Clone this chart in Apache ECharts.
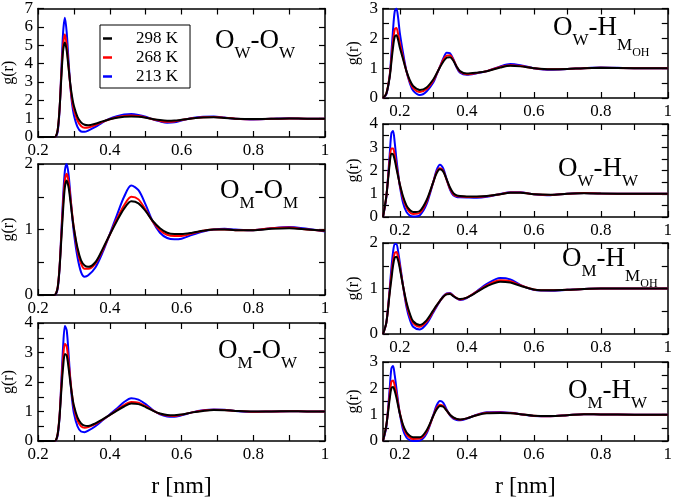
<!DOCTYPE html>
<html>
<head>
<meta charset="utf-8">
<script src="https://cdn.jsdelivr.net/npm/echarts@6/dist/echarts.min.js"></script>
<style>
html, body { margin: 0; padding: 0; background: #fff; }
#main { width: 675px; height: 500px; }
</style>
</head>
<body>
<div id="main"></div>
<script>
// r grids (nm)
var rLeft = [0.20, 0.245, 0.25, 0.255, 0.26, 0.265, 0.27, 0.275, 0.28, 0.285, 0.29, 0.295, 0.30, 0.31, 0.32, 0.33, 0.34, 0.36, 0.38, 0.40,
  0.42, 0.44, 0.46, 0.48, 0.50, 0.52, 0.54, 0.56, 0.58, 0.60, 0.63, 0.66, 0.69, 0.72, 0.75, 0.80, 0.85, 0.90, 0.95, 1.00];
var rRight = [0.15, 0.16, 0.17, 0.175, 0.18, 0.185, 0.19, 0.195, 0.20, 0.21, 0.22, 0.23, 0.24, 0.26, 0.28, 0.30, 0.31, 0.32, 0.33,
  0.34, 0.35, 0.36, 0.37, 0.38, 0.40, 0.43, 0.46, 0.50, 0.53, 0.56, 0.60, 0.65, 0.70, 0.75, 0.80, 0.90, 1.00];

// O_W - O_W
var owOw298 = [0, 0, 0.05, 0.4, 1.5, 3.2, 4.7, 5.15, 4.7, 3.8, 2.9, 2.2, 1.7, 1.1, 0.8, 0.67, 0.64, 0.72, 0.85, 0.97,
  1.05, 1.1, 1.12, 1.1, 1.05, 0.98, 0.92, 0.89, 0.9, 0.94, 1.01, 1.06, 1.07, 1.04, 1.0, 0.98, 0.99, 1.01, 1.0, 1.0];
var owOw268 = [0, 0, 0.05, 0.4, 1.5, 3.4, 5.0, 5.6, 5.0, 3.9, 2.8, 2.0, 1.5, 0.9, 0.6, 0.5, 0.52, 0.65, 0.82, 0.97,
  1.08, 1.15, 1.17, 1.14, 1.07, 0.97, 0.88, 0.83, 0.85, 0.92, 1.02, 1.08, 1.09, 1.05, 1.0, 0.97, 0.99, 1.01, 1.0, 1.0];
var owOw213 = [0, 0, 0.03, 0.3, 1.4, 3.6, 5.7, 6.5, 5.7, 4.2, 2.8, 1.8, 1.2, 0.55, 0.3, 0.28, 0.35, 0.55, 0.8, 1.0,
  1.13, 1.22, 1.25, 1.2, 1.1, 0.96, 0.85, 0.78, 0.8, 0.9, 1.03, 1.1, 1.12, 1.06, 1.0, 0.96, 0.99, 1.02, 1.0, 1.0];

// O_M - O_M
var omOm298 = [0, 0, 0.02, 0.12, 0.4, 0.85, 1.3, 1.65, 1.75, 1.65, 1.45, 1.22, 1.02, 0.72, 0.53, 0.45, 0.43, 0.5, 0.7, 0.92,
  1.13, 1.32, 1.43, 1.4, 1.28, 1.13, 1.02, 0.95, 0.93, 0.93, 0.95, 0.98, 1.0, 1.0, 0.99, 0.99, 1.01, 1.02, 1.0, 0.98];
var omOm268 = [0, 0, 0.02, 0.12, 0.42, 0.9, 1.4, 1.75, 1.85, 1.74, 1.5, 1.25, 1.02, 0.68, 0.48, 0.4, 0.4, 0.48, 0.68, 0.92,
  1.16, 1.37, 1.5, 1.46, 1.3, 1.12, 0.99, 0.92, 0.9, 0.9, 0.94, 0.98, 1.0, 1.0, 0.99, 0.99, 1.02, 1.03, 1.0, 0.98];
var omOm213 = [0, 0, 0.01, 0.1, 0.4, 0.95, 1.5, 1.9, 2.0, 1.85, 1.55, 1.22, 0.95, 0.58, 0.35, 0.28, 0.3, 0.42, 0.65, 0.93,
  1.22, 1.5, 1.67, 1.6, 1.38, 1.12, 0.95, 0.87, 0.85, 0.86, 0.92, 0.97, 1.0, 1.01, 1.0, 0.99, 1.02, 1.04, 1.01, 0.97];

// O_M - O_W
var omOw298 = [0, 0, 0.03, 0.25, 0.8, 1.7, 2.5, 2.95, 2.9, 2.5, 2.0, 1.55, 1.2, 0.8, 0.6, 0.52, 0.51, 0.6, 0.73, 0.88,
  1.03, 1.17, 1.27, 1.25, 1.15, 1.03, 0.93, 0.88, 0.87, 0.9, 0.97, 1.02, 1.05, 1.04, 1.02, 1.0, 1.0, 1.01, 1.0, 1.0];
var omOw268 = [0, 0, 0.03, 0.25, 0.85, 1.85, 2.8, 3.3, 3.2, 2.7, 2.1, 1.55, 1.15, 0.7, 0.5, 0.45, 0.47, 0.57, 0.72, 0.88,
  1.05, 1.22, 1.32, 1.3, 1.18, 1.04, 0.92, 0.86, 0.85, 0.89, 0.97, 1.03, 1.06, 1.05, 1.02, 0.99, 1.0, 1.01, 1.0, 1.0];
var omOw213 = [0, 0, 0.02, 0.2, 0.8, 2.0, 3.2, 3.9, 3.75, 3.0, 2.1, 1.4, 0.95, 0.5, 0.32, 0.3, 0.35, 0.5, 0.7, 0.9,
  1.1, 1.32, 1.45, 1.4, 1.25, 1.05, 0.9, 0.83, 0.82, 0.87, 0.97, 1.04, 1.07, 1.06, 1.02, 0.99, 1.0, 1.01, 1.0, 1.0];

// O_W - H_M(OH)
var owHm298 = [0, 0.15, 0.7, 1.2, 1.7, 2.05, 2.1, 1.95, 1.7, 1.3, 0.9, 0.6, 0.4, 0.27, 0.35, 0.62, 0.82, 1.03, 1.22,
  1.35, 1.37, 1.25, 1.05, 0.9, 0.82, 0.85, 0.9, 1.02, 1.08, 1.06, 1.0, 0.96, 0.97, 1.0, 1.01, 1.0, 1.0];
var owHm268 = [0, 0.15, 0.75, 1.3, 1.9, 2.3, 2.35, 2.15, 1.85, 1.35, 0.9, 0.55, 0.33, 0.2, 0.3, 0.58, 0.8, 1.05, 1.28,
  1.42, 1.43, 1.28, 1.05, 0.88, 0.8, 0.84, 0.9, 1.04, 1.1, 1.07, 1.0, 0.96, 0.97, 1.0, 1.01, 1.0, 1.0];
var owHm213 = [0, 0.12, 0.75, 1.5, 2.3, 2.9, 3.0, 2.7, 2.2, 1.5, 0.9, 0.5, 0.25, 0.1, 0.22, 0.52, 0.78, 1.05, 1.33,
  1.52, 1.5, 1.3, 1.02, 0.85, 0.78, 0.83, 0.9, 1.06, 1.14, 1.1, 1.0, 0.95, 0.97, 1.0, 1.02, 1.0, 1.0];

// O_W - H_W
var owHw298 = [0, 0.9, 2.3, 2.72, 2.7, 2.45, 2.1, 1.75, 1.42, 0.88, 0.5, 0.3, 0.21, 0.26, 0.72, 1.5, 1.88, 2.05, 1.95,
  1.62, 1.27, 1.03, 0.93, 0.9, 0.88, 0.88, 0.9, 0.98, 1.04, 1.04, 0.98, 0.96, 1.0, 1.02, 1.01, 1.0, 1.0];
var owHw268 = [0, 0.9, 2.45, 2.95, 2.95, 2.65, 2.2, 1.8, 1.4, 0.8, 0.42, 0.2, 0.13, 0.18, 0.65, 1.5, 1.93, 2.1, 1.98,
  1.6, 1.22, 0.98, 0.9, 0.88, 0.86, 0.86, 0.89, 0.98, 1.05, 1.05, 0.98, 0.95, 1.0, 1.03, 1.01, 1.0, 1.0];
var owHw213 = [0, 0.85, 2.7, 3.6, 3.7, 3.2, 2.5, 1.9, 1.35, 0.6, 0.22, 0.06, 0.02, 0.08, 0.55, 1.5, 2.02, 2.25, 2.08,
  1.62, 1.18, 0.93, 0.86, 0.85, 0.84, 0.83, 0.87, 0.99, 1.06, 1.06, 0.98, 0.94, 1.0, 1.03, 1.01, 1.0, 1.0];

// O_M - H_M(OH)
var omHm298 = [0, 0.25, 0.9, 1.2, 1.5, 1.68, 1.7, 1.62, 1.45, 1.05, 0.7, 0.45, 0.28, 0.2, 0.3, 0.52, 0.63, 0.73, 0.82,
  0.87, 0.88, 0.83, 0.79, 0.77, 0.8, 0.92, 1.05, 1.15, 1.13, 1.06, 0.98, 0.96, 0.97, 0.99, 1.0, 1.0, 1.0];
var omHm268 = [0, 0.25, 0.95, 1.3, 1.6, 1.78, 1.8, 1.7, 1.5, 1.05, 0.66, 0.4, 0.24, 0.16, 0.27, 0.5, 0.62, 0.73, 0.82,
  0.88, 0.89, 0.84, 0.79, 0.76, 0.8, 0.93, 1.07, 1.18, 1.16, 1.07, 0.98, 0.96, 0.97, 0.99, 1.0, 1.0, 1.0];
var omHm213 = [0, 0.25, 1.0, 1.45, 1.8, 1.98, 1.98, 1.82, 1.58, 1.05, 0.6, 0.32, 0.16, 0.1, 0.22, 0.47, 0.6, 0.72, 0.83,
  0.89, 0.9, 0.84, 0.78, 0.75, 0.79, 0.94, 1.1, 1.23, 1.2, 1.08, 0.97, 0.95, 0.97, 0.99, 1.0, 1.0, 1.0];

// O_M - H_W
var omHw298 = [0, 0.6, 1.6, 2.0, 2.05, 1.9, 1.65, 1.35, 1.05, 0.6, 0.33, 0.2, 0.14, 0.14, 0.4, 0.95, 1.2, 1.33, 1.3,
  1.15, 1.0, 0.9, 0.84, 0.82, 0.86, 0.98, 1.05, 1.06, 1.05, 1.02, 0.96, 0.95, 0.98, 1.02, 1.01, 1.0, 1.0];
var omHw268 = [0, 0.6, 1.75, 2.25, 2.3, 2.1, 1.8, 1.42, 1.08, 0.55, 0.26, 0.13, 0.08, 0.09, 0.35, 0.95, 1.25, 1.38, 1.33,
  1.16, 0.99, 0.88, 0.83, 0.81, 0.86, 0.99, 1.07, 1.08, 1.06, 1.02, 0.96, 0.94, 0.98, 1.02, 1.01, 1.0, 1.0];
var omHw213 = [0, 0.55, 2.0, 2.75, 2.85, 2.5, 2.0, 1.5, 1.05, 0.42, 0.13, 0.03, 0.0, 0.02, 0.28, 0.98, 1.35, 1.52, 1.45,
  1.2, 0.97, 0.85, 0.8, 0.79, 0.85, 1.0, 1.09, 1.1, 1.07, 1.02, 0.95, 0.94, 0.98, 1.02, 1.01, 1.0, 1.0];

// ticks and labels
var xTicks = [0.2, 0.3, 0.4, 0.5, 0.6, 0.7, 0.8, 0.9, 1];
var xLabels = [0.2, 0.4, 0.6, 0.8, 1];
var yTicks7 = [0, 1, 2, 3, 4, 5, 6, 7];
var yTicks2 = [0, 0.5, 1, 1.5, 2];
var yLabels2 = [0, 1, 2];
var yTicks3 = [0, 0.5, 1, 1.5, 2, 2.5, 3];
var yLabels3 = [0, 1, 2, 3];
var yTicks4 = [0, 0.5, 1, 1.5, 2, 2.5, 3, 3.5, 4];
var yLabels4 = [0, 1, 2, 3, 4];

var temps = ['298 K', '268 K', '213 K'];
var colors = ['#000000', '#ff0000', '#0000ff'];
var FONT = "'Liberation Serif', 'Times New Roman', serif";

var panels = [
  { grid: { left: 37, top: 5, width: 288, height: 132 }, r: rLeft, xMin: 0.2, d: [owOw298, owOw268, owOw213],
    yMax: 7, yTicks: yTicks7, yLabels: yTicks7, title: '{b|O}{s|W}{b|-O}{s|W}', tl: 215, tt: 24 },
  { grid: { left: 37, top: 164, width: 288, height: 131 }, r: rLeft, xMin: 0.2, d: [omOm298, omOm268, omOm213],
    yMax: 2, yTicks: yTicks2, yLabels: yLabels2, title: '{b|O}{s|M}{b|-O}{s|M}', tl: 220, tt: 174 },
  { grid: { left: 37, top: 323, width: 288, height: 130 }, r: rLeft, xMin: 0.2, d: [omOw298, omOw268, omOw213],
    yMax: 4, yTicks: yTicks4, yLabels: yLabels4, title: '{b|O}{s|M}{b|-O}{s|W}', tl: 218, tt: 334, xName: true },
  { grid: { left: 383, top: 7, width: 287, height: 91 }, r: rRight, xMin: 0.15, d: [owHm298, owHm268, owHm213],
    yMax: 3, yTicks: yTicks3, yLabels: yLabels3, title: '{b|O}{s|W}{b|-H}{m|M}{ss|OH}', tl: 553, tt: 11 },
  { grid: { left: 383, top: 124, width: 287, height: 93 }, r: rRight, xMin: 0.15, d: [owHw298, owHw268, owHw213],
    yMax: 4, yTicks: yTicks4, yLabels: yLabels4, title: '{b|O}{s|W}{b|-H}{s|W}', tl: 558, tt: 152 },
  { grid: { left: 383, top: 243, width: 287, height: 91 }, r: rRight, xMin: 0.15, d: [omHm298, omHm268, omHm213],
    yMax: 2, yTicks: yTicks2, yLabels: yLabels2, title: '{b|O}{s|M}{b|-H}{m|M}{ss|OH}', tl: 562, tt: 242 },
  { grid: { left: 383, top: 362, width: 287, height: 91 }, r: rRight, xMin: 0.15, d: [omHw298, omHw268, omHw213],
    yMax: 3, yTicks: yTicks3, yLabels: yLabels3, title: '{b|O}{s|M}{b|-H}{s|W}', tl: 568, tt: 374, xName: true }
];

var richStyle = {
  b: { fontFamily: FONT, fontWeight: 'normal', fontSize: 27, lineHeight: 34, color: '#000' },
  s: { fontFamily: FONT, fontWeight: 'normal', fontSize: 17, lineHeight: 34, color: '#000', padding: [26, 0, 0, 0] },
  m: { fontFamily: FONT, fontWeight: 'normal', fontSize: 17, lineHeight: 34, color: '#000', padding: [36, 0, 0, 0] },
  ss: { fontFamily: FONT, fontWeight: 'normal', fontSize: 12, lineHeight: 34, color: '#000', padding: [50, 0, 0, 0] }
};

var lineSt = { color: '#000', width: 1.5 };
var labelSt = { color: '#000', fontFamily: FONT, fontWeight: 'normal', fontSize: 17, margin: 5 };
var grids = [], xAxes = [], yAxes = [], series = [], titles = [];

panels.forEach(function (p, i) {
  grids.push(p.grid);
  titles.push({ text: p.title, left: p.tl, top: p.tt, padding: 0,
    textStyle: { fontFamily: FONT, fontWeight: 'normal', fontSize: 27, rich: richStyle } });
  ['bottom', 'top'].forEach(function (pos) {
    var ax = {
      type: 'value', gridIndex: i, position: pos, min: p.xMin, max: 1,
      axisLine: { show: true, onZero: false, lineStyle: lineSt },
      axisTick: { show: true, inside: true, length: 6, customValues: xTicks, lineStyle: { color: '#000', width: 1.2 } },
      axisLabel: Object.assign({ show: pos === 'bottom', customValues: xLabels }, labelSt),
      splitLine: { show: false }
    };
    if (pos === 'bottom' && p.xName) {
      ax.name = 'r [nm]';
      ax.nameLocation = 'middle';
      ax.nameGap = 34;
      ax.nameTextStyle = { color: '#000', fontFamily: FONT, fontSize: 24 };
    }
    xAxes.push(ax);
  });
  ['left', 'right'].forEach(function (pos) {
    var ay = {
      type: 'value', gridIndex: i, position: pos, min: 0, max: p.yMax,
      axisLine: { show: true, onZero: false, lineStyle: lineSt },
      axisTick: { show: true, inside: true, length: 6, customValues: p.yTicks, lineStyle: { color: '#000', width: 1.2 } },
      axisLabel: Object.assign({ show: pos === 'left', customValues: p.yLabels }, labelSt),
      splitLine: { show: false }
    };
    if (pos === 'left') {
      ay.name = 'g(r)';
      ay.nameLocation = 'middle';
      ay.nameGap = 21;
      ay.nameTextStyle = { color: '#000', fontFamily: FONT, fontSize: 16 };
    }
    yAxes.push(ay);
  });
  // blue under red under black
  [2, 1, 0].forEach(function (k) {
    series.push({
      name: temps[k], type: 'line', xAxisIndex: 2 * i, yAxisIndex: 2 * i,
      data: p.r.map(function (x, j) { return [x, p.d[k][j]]; }),
      showSymbol: false, symbol: 'none', smooth: 0.3,
      lineStyle: { color: colors[k], width: 2 }, itemStyle: { color: colors[k] },
      z: 3 - k
    });
  });
});

var chart = echarts.init(document.getElementById('main'));
chart.setOption({
  animation: false,
  backgroundColor: '#fff',
  textStyle: { fontFamily: FONT },
  title: titles,
  legend: {
    data: temps, left: 100, top: 25, orient: 'vertical', selectedMode: false,
    icon: 'rect', itemWidth: 9, itemHeight: 2.5, itemGap: 2,
    borderColor: '#000', borderWidth: 1, padding: [5, 12, 3, 3],
    textStyle: { color: '#000', fontFamily: FONT, fontSize: 17, lineHeight: 17, padding: [0, 0, 0, 19] }
  },
  grid: grids,
  xAxis: xAxes,
  yAxis: yAxes,
  series: series
});
</script>
</body>
</html>
